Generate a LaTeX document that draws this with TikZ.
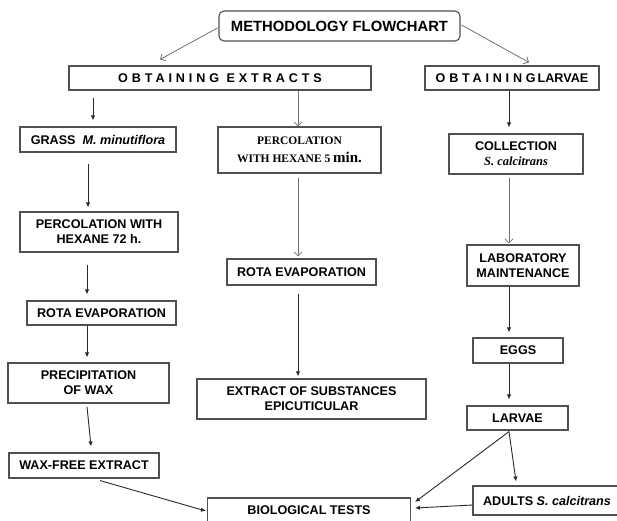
\documentclass[tikz,border=0pt]{standalone}
\usepackage{fontspec}
\setmainfont{Liberation Sans}
\newfontfamily\serifb{Liberation Serif}
\usetikzlibrary{arrows.meta}
\definecolor{boxc}{HTML}{505050}
\definecolor{arrk}{HTML}{2A2A2A}
\definecolor{arrg}{HTML}{707070}
\begin{document}
\begin{tikzpicture}[x=1pt,y=-1pt,
  box/.style={draw=boxc, line width=1.1pt, fill=white, inner sep=0pt, align=center,
    font=\bfseries\fontsize{12.6}{15}\selectfont, text=black},
  blk/.style={draw=arrk, line width=0.9pt, -{Latex[length=5pt,width=4.5pt]}},
  gry/.style={draw=arrg, line width=0.8pt, -{Straight Barb[length=4pt,width=8pt]}}]
\useasboundingbox (0,0) rectangle (617,520);
% nodes
\node[box, rounded corners=5pt, minimum width=241pt, minimum height=30pt,
  font=\bfseries\fontsize{14.8}{17}\selectfont] (top) at (339.5,26) {METHODOLOGY FLOWCHART};
\node[box, minimum width=302pt, minimum height=24pt] (ext) at (220,78)
  {\addfontfeature{LetterSpace=31}OBTAINING EXTRACTS};
\node[box, minimum width=174pt, minimum height=24pt] (lar) at (512,78)
  {{\addfontfeature{LetterSpace=30}OBTAINING}\kern2pt LARVAE};
\node[box, minimum width=156pt, minimum height=25pt] (grass) at (98,139.5)
  {GRASS\ \ \textit{M. minutiflora}};
\node[box, minimum width=163pt, minimum height=46pt,
  font=\serifb\bfseries\fontsize{11.5}{18}\selectfont] (perc5) at (299.5,150)
  {PERCOLATION\\WITH HEXANE 5 {\fontsize{15}{18}\selectfont min.}};
\node[box, minimum width=134pt, minimum height=40pt] (coll) at (516,154)
  {COLLECTION\\{\serifb\bfseries\itshape\fontsize{12.5}{15}\selectfont S. calcitrans}};
\node[box, minimum width=158pt, minimum height=40pt] (perc72) at (99,232)
  {PERCOLATION WITH\\HEXANE 72 h.};
\node[box, minimum width=149pt, minimum height=26pt] (rotaM) at (301.5,272)
  {ROTA EVAPORATION};
\node[box, minimum width=112pt, minimum height=41pt] (lab) at (523,265.5)
  {LABORATORY\\MAINTENANCE};
\node[box, minimum width=149pt, minimum height=24pt] (rotaL) at (101.5,313)
  {ROTA EVAPORATION};
\node[box, minimum width=90pt, minimum height=25pt] (eggs) at (518,350.5) {EGGS};
\node[box, minimum width=161pt, minimum height=40pt] (precip) at (88.5,383)
  {PRECIPITATION\\OF WAX};
\node[box, minimum width=229pt, minimum height=40pt] (extract) at (311.5,399)
  {EXTRACT OF SUBSTANCES\\EPICUTICULAR};
\node[box, minimum width=101pt, minimum height=24pt] (larvae) at (517.5,418) {LARVAE};
\node[box, minimum width=150pt, minimum height=25pt] (wax) at (84,465.5) {WAX-FREE EXTRACT};
\node[box, minimum width=148pt, minimum height=29pt] (adults) at (547,500.5)
  {ADULTS \textit{S. calcitrans}};
\node[box, minimum width=203pt, minimum height=24pt] (bio) at (309,510) {BIOLOGICAL TESTS};
% connectors
\draw[gry] ([xshift=-1pt,yshift=-2pt]top.west) -- ([xshift=-60pt,yshift=6pt]ext.north);
\draw[gry] ([xshift=1pt,yshift=1pt]top.east) -- ([xshift=17pt,yshift=3pt]lar.north);
\draw[blk] ([xshift=-127pt,yshift=-7pt]ext.south) -- ([xshift=-5pt,yshift=6pt]grass.north);
\draw[gry] ([xshift=78pt]ext.south) -- ([xshift=-1.5pt]perc5.north);
\draw[blk] ([xshift=-3pt]lar.south) -- ([xshift=-7pt,yshift=6pt]coll.north);
\draw[blk] ([xshift=-10pt,yshift=-11pt]grass.south) -- ([xshift=-11pt,yshift=4pt]perc72.north);
\draw[blk] ([xshift=-12pt,yshift=-12pt]perc72.south) -- ([xshift=-14.5pt,yshift=6pt]rotaL.north);
\draw[blk] ([xshift=-14.5pt]rotaL.south) -- ([xshift=-1.5pt,yshift=5pt]precip.north);
\draw[blk] ([xshift=-1.5pt,yshift=-3pt]precip.south) -- ([xshift=7pt,yshift=6pt]wax.north);
\draw[blk] ([xshift=16pt,yshift=-2pt]wax.south) -- ([xshift=-1pt,yshift=-1pt]bio.west);
\draw[gry] ([xshift=-1.5pt,yshift=-4pt]perc5.south) -- ([xshift=-3.5pt,yshift=2pt]rotaM.north);
\draw[blk] ([xshift=-3.5pt,yshift=-8pt]rotaM.south) -- ([xshift=-13.5pt,yshift=2pt]extract.north);
\draw[gry] ([xshift=-7pt,yshift=-3pt]coll.south) -- ([xshift=-14pt,yshift=1pt]lab.north);
\draw[blk] ([xshift=-14pt]lab.south) -- ([xshift=-9pt,yshift=5pt]eggs.north);
\draw[blk] ([xshift=-9pt]eggs.south) -- ([xshift=-8.5pt,yshift=6pt]larvae.north);
\draw[blk] ([xshift=-8.5pt,yshift=-1pt]larvae.south) -- ([xshift=4pt,yshift=8pt]bio.east);
\draw[blk] ([xshift=-8.5pt,yshift=-1pt]larvae.south) -- ([xshift=-31pt,yshift=4pt]adults.north);
\draw[blk] ([yshift=-4.5pt]adults.west) -- ([xshift=4pt,yshift=2pt]bio.east);
\end{tikzpicture}
\end{document}
